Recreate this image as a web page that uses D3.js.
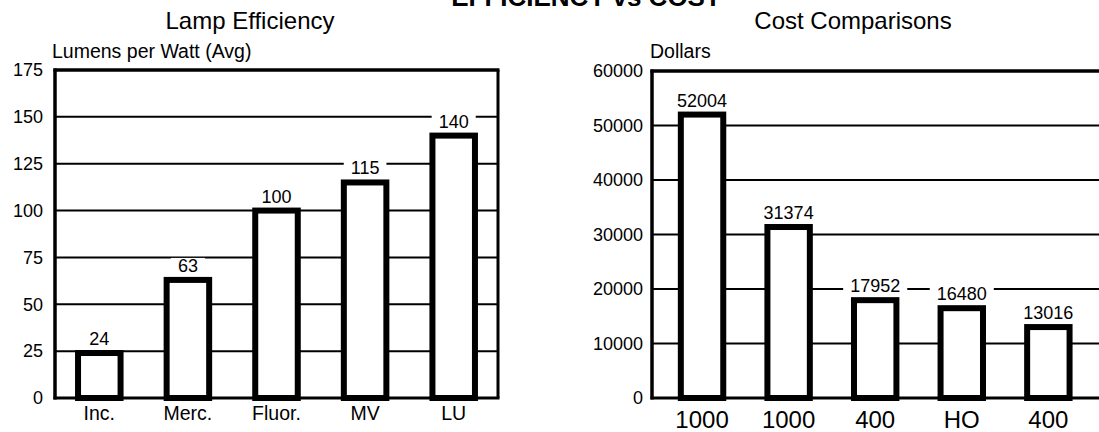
<!DOCTYPE html>
<html>
<head>
<meta charset="utf-8">
<script src="https://cdn.jsdelivr.net/npm/d3@7/dist/d3.min.js"></script>
<style>
  html, body { margin: 0; padding: 0; background: #fff; }
  svg { display: block; font-family: "Liberation Sans", Arial, Helvetica, sans-serif; }
</style>
</head>
<body>
<svg id="chart" width="1099" height="432"></svg>
<script>
// Lamp efficiency (lumens per watt, average)
const lampTypes = ["Inc.", "Merc.", "Fluor.", "MV", "LU"];
const lumensPerWatt = [24, 63, 100, 115, 140];
const efficiencyTicks = [0, 25, 50, 75, 100, 125, 150, 175];

// Cost comparisons (dollars)
const costLabels = ["1000", "1000", "400", "HO", "400"];
const costDollars = [52004, 31374, 17952, 16480, 13016];
const costTicks = [0, 10000, 20000, 30000, 40000, 50000, 60000];

const svg = d3.select("#chart");

svg.append("text")
  .attr("x", 586).attr("y", 6)
  .attr("text-anchor", "middle")
  .attr("font-size", 26).attr("font-weight", "bold")
  .text("EFFICIENCY vs COST");

function drawPanel(cfg) {
  const g = svg.append("g");
  const y = d3.scaleLinear().domain(cfg.domain).range([cfg.bottom, cfg.top]);
  const x = d3.scaleBand()
    .domain(cfg.categories.map((d, i) => i))
    .range(cfg.bandRange)
    .paddingInner(cfg.padInner)
    .paddingOuter(cfg.padOuter);

  // title and axis caption
  g.append("text")
    .attr("x", cfg.titleX).attr("y", 29)
    .attr("text-anchor", "middle")
    .attr("font-size", 24)
    .text(cfg.title);
  g.append("text")
    .attr("x", cfg.captionX).attr("y", 58)
    .attr("font-size", 19.5)
    .text(cfg.caption);

  // horizontal gridlines
  g.append("g").selectAll("line")
    .data(cfg.ticks.filter(t => t > 0 && t < cfg.domain[1]))
    .join("line")
    .attr("x1", cfg.left).attr("x2", cfg.right)
    .attr("y1", d => y(d)).attr("y2", d => y(d))
    .attr("stroke", "#000").attr("stroke-width", 2);

  // y tick labels via d3 axis (no tick lines / domain)
  const axis = d3.axisLeft(y).tickValues(cfg.ticks).tickSize(0).tickPadding(cfg.tickPad)
    .tickFormat(d3.format("d"));
  const ax = g.append("g").attr("transform", `translate(${cfg.left},0)`).call(axis);
  ax.select(".domain").remove();
  ax.selectAll("text").attr("font-size", 18).attr("font-family", null).attr("fill", "#000");

  // frame: top, left, right, baseline
  const frame = g.append("g").attr("fill", "none").attr("stroke", "#000");
  frame.append("line").attr("x1", cfg.left - 1.5).attr("x2", cfg.right + 1.5)
    .attr("y1", y(cfg.domain[1])).attr("y2", y(cfg.domain[1])).attr("stroke-width", 3.5);
  frame.append("line").attr("x1", cfg.left).attr("x2", cfg.left)
    .attr("y1", y(cfg.domain[1]) - 1.5).attr("y2", y(0) + 1.5).attr("stroke-width", 3.5);
  frame.append("line").attr("x1", cfg.right).attr("x2", cfg.right)
    .attr("y1", y(cfg.domain[1])).attr("y2", y(0)).attr("stroke-width", 3);
  frame.append("line").attr("x1", cfg.left - 1.5).attr("x2", cfg.right + 1.5)
    .attr("y1", y(0)).attr("y2", y(0)).attr("stroke-width", 3);

  // bars
  g.append("g").selectAll("rect")
    .data(cfg.values)
    .join("rect")
    .attr("x", (d, i) => x(i))
    .attr("width", x.bandwidth())
    .attr("y", d => y(d))
    .attr("height", d => y(0) - y(d))
    .attr("fill", "#fff").attr("stroke", "#000").attr("stroke-width", 6);

  // value labels with white backing
  const lbl = g.append("g").selectAll("g")
    .data(cfg.values)
    .join("g")
    .attr("transform", (d, i) => `translate(${x(i) + x.bandwidth() / 2},${y(d) - 8})`);
  lbl.append("text")
    .attr("text-anchor", "middle")
    .attr("font-size", 18)
    .text(d => d);
  lbl.each(function () {
    const t = d3.select(this).select("text");
    const b = t.node().getBBox();
    d3.select(this).insert("rect", "text")
      .attr("x", b.x - 7).attr("width", b.width + 14)
      .attr("y", b.y + 2).attr("height", b.height - 2)
      .attr("fill", "#fff");
  });

  // category labels
  g.append("g").selectAll("text")
    .data(cfg.categories)
    .join("text")
    .attr("x", (d, i) => x(i) + x.bandwidth() / 2)
    .attr("y", cfg.catY)
    .attr("text-anchor", "middle")
    .attr("font-size", cfg.catSize)
    .text(d => d);
}

drawPanel({
  title: "Lamp Efficiency", titleX: 250,
  caption: "Lumens per Watt (Avg)", captionX: 52,
  categories: lampTypes, values: lumensPerWatt, ticks: efficiencyTicks,
  domain: [0, 175], top: 70, bottom: 398,
  left: 55, right: 498, bandRange: [55, 498], padInner: 0.52, padOuter: 0.26,
  tickPad: 12, catY: 420, catSize: 19.5
});

drawPanel({
  title: "Cost Comparisons", titleX: 853,
  caption: "Dollars", captionX: 650,
  categories: costLabels, values: costDollars, ticks: costTicks,
  domain: [0, 60000], top: 71, bottom: 398,
  left: 652, right: 1104, bandRange: [652, 1098.4], padInner: 0.51, padOuter: 0.333,
  tickPad: 9, catY: 428, catSize: 24
});
</script>
</body>
</html>
